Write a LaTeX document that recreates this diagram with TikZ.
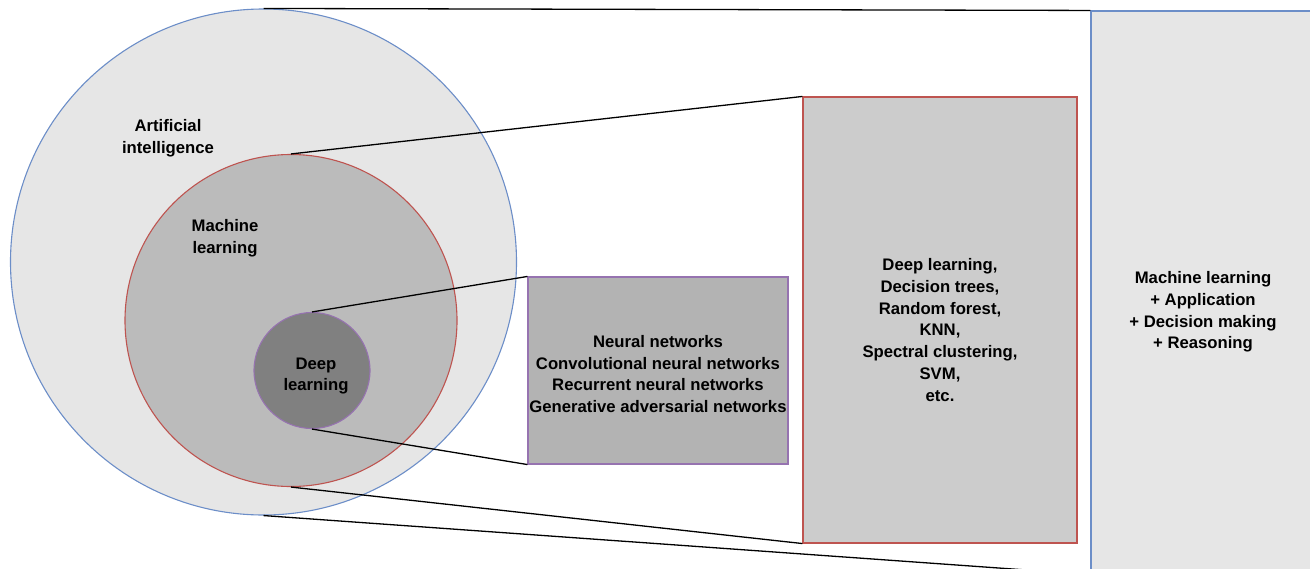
\documentclass[tikz,border=0pt]{standalone}
\usepackage{fontspec}
\setmainfont{Liberation Sans}
\definecolor{aiblue}{RGB}{108,142,200}
\definecolor{mlred}{RGB}{190,84,80}
\definecolor{dlpurple}{RGB}{150,115,176}
\definecolor{aifill}{RGB}{230,230,230}
\definecolor{mlfill}{RGB}{187,187,187}
\definecolor{dlfill}{RGB}{128,128,128}
\definecolor{midfill}{RGB}{204,204,204}
\definecolor{smallfill}{RGB}{179,179,179}
\begin{document}
\begin{tikzpicture}[x=1pt,y=-1pt,
  lbl/.style={font=\fontsize{16.7}{21.7}\selectfont\bfseries, align=center, text=black, inner sep=0pt},
  conn/.style={draw=black, line width=1.3pt},
  ring/.style={circle, line width=1.1pt, inner sep=0pt},
  panel/.style={rectangle, line width=1.1pt, inner sep=0pt}]
\useasboundingbox (0,0) rectangle (1310,568);
\clip (0,0) rectangle (1310,568);
\node[ring, draw=aiblue, fill=aifill, minimum size=506pt] (ai) at (263.5,262) {};
\node[ring, draw=mlred, fill=mlfill, minimum size=332pt] (ml) at (291,320.5) {};
\node[ring, draw=dlpurple, fill=dlfill, minimum size=116pt] (dl) at (312,370.5) {};
\node[panel, draw=dlpurple, fill=smallfill, minimum width=260pt, minimum height=187pt] (small) at (658,370.5) {};
\node[panel, draw=mlred, fill=midfill, minimum width=274pt, minimum height=446pt] (mid) at (940,320) {};
\node[panel, draw=aiblue, fill=aifill, minimum width=260pt, minimum height=563pt] (right) at (1221,292.5) {};
\node[lbl] (aitext) at (168,138) {Artificial\\intelligence};
\node[lbl] (mltext) at (225,238.5) {Machine\\learning};
\node[lbl] (dltext) at (316,376) {Deep\\learning};
\node[lbl] (smalltext) at (658,374) {Neural networks\\Convolutional neural networks\\Recurrent neural networks\\Generative adversarial networks};
\node[lbl] (midtext) at (940,330) {Deep learning,\\Decision trees,\\Random forest,\\KNN,\\Spectral clustering,\\SVM,\\etc.};
\node[lbl] (righttext) at (1203,312) {Machine learning\\+ Application\\+ Decision making\\+ Reasoning};
\draw[conn] (ai.north) -- (right.north west);
\draw[conn] (ai.south) -- (right.south west);
\draw[conn] (ml.north) -- (mid.north west);
\draw[conn] (ml.south) -- (mid.south west);
\draw[conn] (dl.north) -- (small.north west);
\draw[conn] (dl.south) -- (small.south west);
\end{tikzpicture}
\end{document}
